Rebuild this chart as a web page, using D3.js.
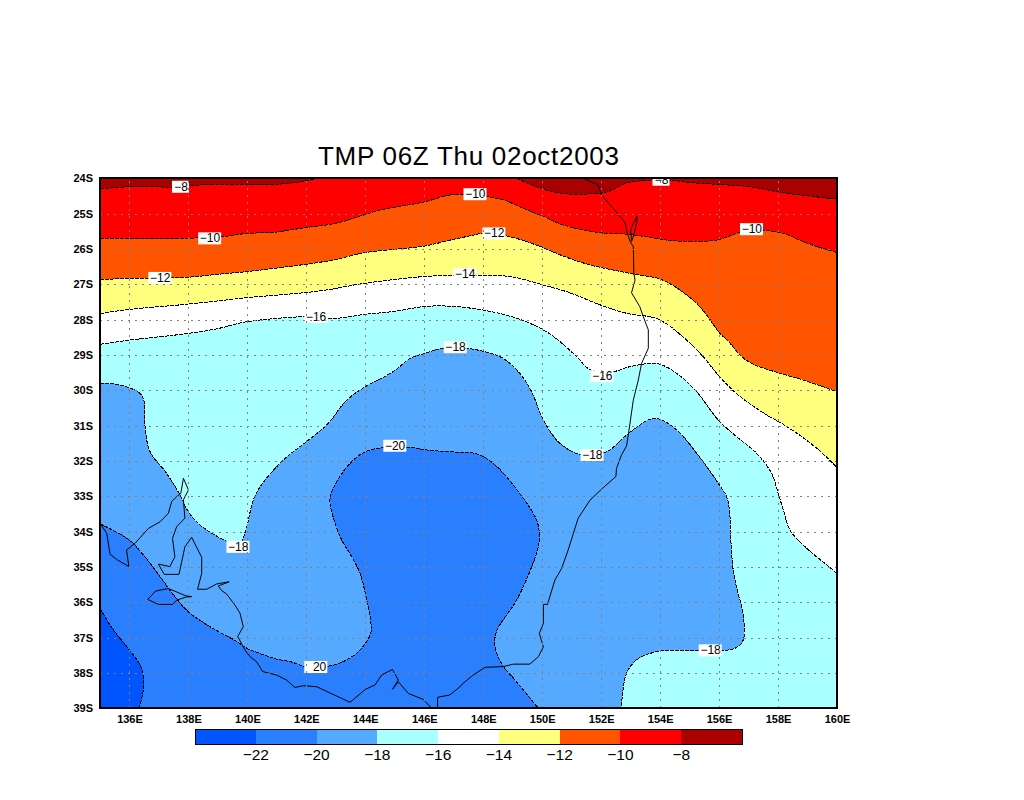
<!DOCTYPE html>
<html>
<head>
<meta charset="utf-8">
<script src="https://cdn.jsdelivr.net/npm/d3@7"></script>
<style>
  body { margin: 0; background: #fff; }
  text { font-family: "Liberation Sans", sans-serif; fill: #000; }
</style>
</head>
<body>
<script>
  // Contours as [longitude E, latitude S]
  const contourM8West = [[135,24.30],[136,24.24],[136.81,24.24],[137.49,24.25],[138,24.21],[138.96,24.17],[140.99,24.17],[142.01,24.07],[142.41,24]];
  const contourM8East = [[149.13,24],[150.04,24.31],[150.83,24.44],[151.62,24.44],[152.18,24.39],[152.86,24.14],[153.65,24.05],[154.33,24.05],[155.01,24.12],[155.92,24.17],[157.05,24.24],[158.18,24.41],[160,24.59]];
  const contourM10 = [[135,25.70],[138,25.70],[138.39,25.68],[139.18,25.65],[139.98,25.56],[140.88,25.53],[142.01,25.39],[143.03,25.27],[143.82,25.07],[144.5,24.90],[146,24.67],[146.76,24.49],[147.32,24.45],[148.11,24.52],[148.68,24.61],[149.36,24.85],[150.04,25.08],[150.71,25.32],[151.96,25.54],[152.86,25.58],[153.65,25.67],[154.33,25.76],[155.12,25.78],[155.92,25.75],[156.59,25.56],[157.05,25.43],[157.42,25.46],[158.18,25.56],[158.74,25.75],[159.31,25.93],[160,26.10]];
  const contourM12 = [[135,26.87],[136,26.83],[136.81,26.83],[138,26.80],[138.96,26.72],[139.98,26.64],[142.01,26.43],[142.92,26.31],[143.88,26.12],[144.5,26.05],[146,25.92],[146.87,25.75],[147.55,25.63],[148,25.56],[148.79,25.63],[149.81,25.89],[150.71,26.2],[151.62,26.45],[153.09,26.71],[153.99,26.85],[154.67,27.16],[155.24,27.54],[155.58,27.87],[156.03,28.39],[156.28,28.58],[156.71,29],[157.1,29.24],[157.95,29.49],[158.86,29.71],[160,30.04]];
  const contourM14 = [[135,27.83],[136,27.71],[138,27.56],[139.98,27.38],[142.01,27.23],[142.69,27.16],[144,26.97],[146,26.78],[146.99,26.75],[148,26.75],[148.9,26.78],[150.04,27.02],[150.94,27.24],[151.96,27.58],[152.86,27.82],[153.94,27.99],[154.9,28.58],[155.46,29.05],[155.97,29.57],[156.59,30.09],[157.39,30.58],[158.4,31.08],[159.31,31.64],[160,32.18]];
  const contourM16 = [[135,28.70],[136,28.58],[138,28.39],[138.96,28.26],[139.98,28.06],[141.56,27.93],[142.01,27.92],[143.03,27.96],[144,27.85],[144.95,27.77],[146,27.63],[146.87,27.62],[148,27.73],[149.13,27.96],[150.04,28.29],[150.6,28.62],[151.17,29.05],[151.62,29.41],[152.41,29.47],[152.98,29.33],[153.65,29.24],[153.99,29.26],[154.56,29.52],[155.24,30.04],[155.97,30.84],[156.59,31.31],[157.27,31.78],[157.78,32.35],[158,32.9],[158.18,33.39],[158.4,33.95],[158.97,34.47],[159.87,35.09],[160,35.2]];
  const contourM18 = [[135,29.8],[135.45,29.82],[136,29.93],[136.36,30.09],[136.5,30.32],[136.53,31.03],[136.7,31.74],[137.26,32.35],[137.71,32.96],[138,33.44],[138.39,33.81],[139.3,34.28],[139.7,34.4],[139.93,34],[140.2,33.11],[140.43,32.73],[141.22,31.97],[142.01,31.45],[142.69,30.98],[143.37,30.28],[144,29.9],[144.95,29.47],[145.52,29.1],[146.08,28.94],[146.65,28.81],[147.44,28.81],[148.23,28.95],[148.68,29.1],[149.24,29.52],[149.64,30.04],[150.04,30.84],[150.6,31.5],[151.34,31.83],[152.18,31.74],[152.86,31.27],[153.65,30.82],[153.99,30.82],[154.56,31.12],[155.24,31.78],[155.97,32.63],[156.25,33],[156.35,33.39],[156.4,34.24],[156.48,35.09],[156.59,35.56],[156.76,36.12],[156.85,36.6],[156.82,37.07],[156.59,37.28],[156.09,37.37],[155.29,37.37],[154.11,37.37],[153.65,37.45],[153.2,37.63],[152.86,38.01],[152.68,39]];
  const contourM20 = [[135,33.78],[136,34.24],[136.47,34.66],[137.04,35.28],[137.49,35.79],[138,36.27],[138.73,36.69],[139.64,37.11],[139.98,37.3],[140.43,37.45],[141,37.61],[141.45,37.68],[142,37.82],[142.8,37.8],[143.37,37.63],[143.82,37.35],[144.18,36.88],[144.18,36.5],[144.05,35.94],[143.82,35.18],[143.54,34.71],[143.2,34.24],[142.92,33.62],[142.8,33.1],[142.97,32.68],[143.48,32.07],[144,31.74],[144.67,31.62],[145.46,31.61],[146.08,31.69],[146.87,31.74],[147.77,31.8],[148.34,32.07],[149.24,32.92],[149.83,33.72],[149.9,34.24],[149.81,34.6],[149.53,35.23],[149.13,35.94],[148.45,36.83],[148.4,37.26],[148.62,37.73],[149.13,38.25],[149.87,39]];
  const contourM22 = [[135,36.17],[135.45,36.78],[136,37.35],[136.36,37.78],[136.49,38.2],[136.45,38.58],[136.33,39]];

  // Coast outlines
  const coastSouth = [[135.02,33.78],[135.23,34.05],[135.34,34.64],[135.59,34.80],[135.98,34.99],[135.9,34.52],[136.19,34.33],[136.64,33.91],[137.04,33.72],[137.32,33.48],[137.43,33.15],[137.6,33.01],[137.74,32.92],[137.83,32.49],[138,32.82],[137.83,33.1],[137.88,33.62],[137.6,33.86],[137.46,34.19],[137.54,34.71],[137.37,34.99],[136.98,34.92],[137.18,35.21],[137.68,35.21],[137.88,34.43],[138.11,34.16],[138.45,34.73],[138.45,35.18],[138.31,35.63],[138.62,35.63],[138.96,35.48],[139.38,35.42],[139.01,35.54],[139.13,35.67],[139.3,35.77],[139.58,36.08],[139.75,36.31],[139.86,36.69],[139.67,36.97],[139.92,37.35],[140.09,37.54],[140.31,37.68],[140.52,37.96],[140.99,38.06],[141.33,38.2],[141.61,38.41],[141.9,38.36],[142.35,38.39],[143.48,38.83],[144.01,38.46],[144.33,38.34],[144.55,38.06],[144.92,37.9],[145.12,38.2],[144.92,38.46],[145.12,38.25],[145.46,38.58],[145.97,38.75],[146.25,39]];
  const coastEast = [[146.45,39],[146.45,38.69],[146.87,38.62],[147.21,38.39],[147.32,38.29],[147.66,38.06],[148.06,37.84],[148.68,37.82],[149.02,37.75],[149.58,37.75],[149.87,37.54],[150.04,37.26],[149.9,36.88],[150.04,36.6],[150.04,36.06],[150.18,36.06],[150.43,35.37],[150.66,35.04],[150.88,34.52],[151.22,33.62],[151.62,33.11],[152.01,32.8],[152.5,32.44],[152.52,32.21],[152.69,31.83],[152.86,31.58],[152.92,31.27],[153.09,30.28],[153.26,29.71],[153.37,29.24],[153.6,28.81],[153.6,28.29],[153.43,27.92],[153.31,27.63],[153.03,27.24],[153.15,26.88],[153.11,26.69],[153.09,25.93],[152.98,25.79],[152.86,25.46],[152.81,25.25],[152.41,24.85],[152.01,24.47],[151.9,24.19],[151.39,24]];
  const fraserIsland = [[153.03,25.79],[153,25.46],[153.07,25.32],[153.22,25.07],[153.2,25.27],[153.11,25.6],[153.03,25.79]];
  const kangarooIsland = [[136.62,35.92],[136.89,35.68],[137.32,35.61],[137.92,35.82],[138.11,35.84],[137.92,35.85],[137.6,35.94],[137.46,36.06],[136.98,36.06],[136.62,35.92]];

  // Contour labels: value, longitude, latitude at the centre of the white box
  const labelValues = [-8, -10, -12, -16, -14, -10, -12, -18, -16, -20, -18, -18, 20, -18, -10, -8];
  const labelLons = [137.73, 138.72, 137.03, 142.32, 147.38, 147.72, 148.36, 147.05, 152.03, 145.0, 151.69, 139.68, 142.32, 155.7, 157.1, 154.03];
  const labelLats = [24.24, 25.70, 26.82, 27.93, 26.71, 24.45, 25.56, 28.78, 29.6, 31.57, 31.83, 34.43, 37.83, 37.36, 25.44, 24.04];

  // Colour bar
  const levels = [-22, -20, -18, -16, -14, -12, -10, -8];
  const colors = ['#0055ff', '#2a7fff', '#55aaff', '#aaffff', '#ffffff', '#ffff7f', '#ff5500', '#ff0000', '#aa0000'];

  // Ticks
  const lonTicks = [136, 138, 140, 142, 144, 146, 148, 150, 152, 154, 156, 158, 160];
  const latTicks = [24, 25, 26, 27, 28, 29, 30, 31, 32, 33, 34, 35, 36, 37, 38, 39];

  const margin = {top: 178.3, left: 100};
  const width = 737;
  const height = 530;

  const svg = d3.select('body').append('svg')
    .attr('width', 1024)
    .attr('height', 800);

  const x = d3.scaleLinear().domain([135, 160]).range([0, width]);
  const y = d3.scaleLinear().domain([24, 39]).range([0, height]);

  svg.append('text')
    .attr('x', 318)
    .attr('y', 165)
    .attr('textLength', 301)
    .attr('lengthAdjust', 'spacing')
    .style('font-size', '26px')
    .text('TMP 06Z Thu 02oct2003');

  svg.append('clipPath').attr('id', 'plot')
    .append('rect').attr('width', width).attr('height', height);

  const g = svg.append('g')
    .attr('transform', `translate(${margin.left},${margin.top})`);
  const plot = g.append('g').attr('clip-path', 'url(#plot)');

  const smooth = d3.line().x(d => x(d[0])).y(d => y(d[1])).curve(d3.curveCatmullRom.alpha(0.5));
  const straight = d3.line().x(d => x(d[0])).y(d => y(d[1]));
  const corner = (lon, lat) => `L${x(lon)},${y(lat)}`;

  // Paint the bands warm to cold, each one covers everything south of its contour
  plot.append('rect').attr('width', width).attr('height', height).attr('fill', colors[8]);

  const bands = [
    {color: colors[7], d: smooth(contourM8West) + corner(149.13, 24) + smooth(contourM8East).replace('M', 'L') + corner(160, 39) + corner(135, 39) + 'Z'},
    {color: colors[6], d: smooth(contourM10) + corner(160, 39) + corner(135, 39) + 'Z'},
    {color: colors[5], d: smooth(contourM12) + corner(160, 39) + corner(135, 39) + 'Z'},
    {color: colors[4], d: smooth(contourM14) + corner(160, 39) + corner(135, 39) + 'Z'},
    {color: colors[3], d: smooth(contourM16) + corner(160, 39) + corner(135, 39) + 'Z'},
    {color: colors[2], d: smooth(contourM18) + corner(135, 39) + 'Z'},
    {color: colors[1], d: smooth(contourM20) + corner(135, 39) + 'Z'},
    {color: colors[0], d: smooth(contourM22) + corner(135, 39) + 'Z'}
  ];

  plot.selectAll('path.band').data(bands).enter().append('path')
    .attr('class', 'band')
    .attr('d', d => d.d)
    .attr('fill', d => d.color)
    .attr('shape-rendering', 'crispEdges');

  // Axes, the tick lines double as the dotted grid
  const xAxis = d3.axisBottom(x).tickValues(lonTicks).tickSize(-height).tickPadding(7)
    .tickFormat(d => d + 'E');
  const yAxis = d3.axisLeft(y).tickValues(latTicks).tickSize(-width).tickPadding(7)
    .tickFormat(d => d + 'S');

  const styleAxis = (sel) => {
    sel.select('.domain').remove();
    sel.selectAll('line')
      .attr('stroke', '#808080')
      .attr('stroke-dasharray', '2 5')
      .attr('shape-rendering', 'crispEdges');
    sel.selectAll('text')
      .style('font-size', '11px')
      .style('font-weight', 'bold')
      .style('font-family', '"Liberation Sans", sans-serif');
  };

  g.append('g').attr('transform', `translate(0,${height})`).call(xAxis).call(styleAxis);
  g.append('g').call(yAxis).call(styleAxis);

  // Contour lines
  const contours = [contourM8West, contourM8East, contourM10, contourM12, contourM14, contourM16, contourM18, contourM20, contourM22];
  plot.selectAll('path.contour').data(contours).enter().append('path')
    .attr('class', 'contour')
    .attr('d', smooth)
    .attr('fill', 'none')
    .attr('stroke', '#000')
    .attr('stroke-width', 1)
    .attr('stroke-dasharray', '4 1')
    .attr('shape-rendering', 'crispEdges');

  // Coast
  plot.selectAll('path.coast').data([coastSouth, coastEast, fraserIsland, kangarooIsland]).enter().append('path')
    .attr('class', 'coast')
    .attr('d', straight)
    .attr('fill', 'none')
    .attr('stroke', '#000')
    .attr('stroke-width', 1);

  // Contour labels, box width follows the digits and text sits at its right edge
  const boxWidth = d => Math.abs(d) < 10 ? 17 : 23;
  const label = plot.selectAll('g.label').data(labelValues).enter().append('g')
    .attr('class', 'label')
    .attr('transform', (d, i) => `translate(${x(labelLons[i])},${y(labelLats[i])})`);
  label.append('rect')
    .attr('x', d => -boxWidth(d) / 2).attr('y', -6)
    .attr('width', boxWidth).attr('height', 12)
    .attr('fill', '#fff');
  label.append('text')
    .attr('text-anchor', 'end')
    .attr('x', d => boxWidth(d) / 2 - 1)
    .attr('y', 4)
    .style('font-size', '12px')
    .text(d => d < 0 ? '\u2212' + Math.abs(d) : d);

  // Plot frame
  g.append('rect')
    .attr('width', width).attr('height', height)
    .attr('fill', 'none')
    .attr('stroke', '#000')
    .attr('stroke-width', 2)
    .attr('shape-rendering', 'crispEdges');

  // Colour bar
  const barX = d3.scaleLinear().domain([0, colors.length]).range([195, 742]);
  const bar = svg.append('g');
  bar.selectAll('rect').data(colors).enter().append('rect')
    .attr('x', (d, i) => barX(i))
    .attr('y', 729)
    .attr('width', (d, i) => barX(i + 1) - barX(i))
    .attr('height', 15)
    .attr('fill', d => d)
    .attr('shape-rendering', 'crispEdges');
  bar.append('rect')
    .attr('x', barX(0)).attr('y', 729)
    .attr('width', barX(colors.length) - barX(0)).attr('height', 15)
    .attr('fill', 'none').attr('stroke', '#000')
    .attr('shape-rendering', 'crispEdges');
  bar.selectAll('text').data(levels).enter().append('text')
    .attr('x', (d, i) => barX(i + 1))
    .attr('y', 760)
    .attr('text-anchor', 'middle')
    .style('font-size', '15.5px')
    .text(d => '\u2212' + Math.abs(d));
</script>
</body>
</html>
